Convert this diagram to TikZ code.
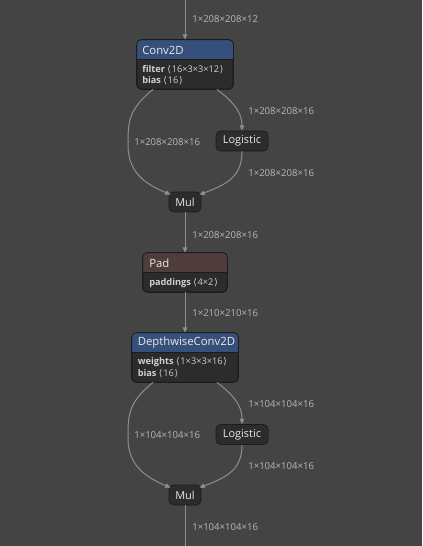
\documentclass[tikz,border=0pt]{standalone}
\usepackage{fontspec}
\setmainfont{Open Sans}
\newfontfamily\symfont{DejaVu Sans}
\usetikzlibrary{calc,arrows.meta}
\definecolor{bg}{HTML}{444444}
\definecolor{nodebody}{HTML}{2c2c2c}
\definecolor{nodeborder}{HTML}{1c1c1c}
\definecolor{convhead}{HTML}{35507a}
\definecolor{padhead}{HTML}{4e3d3a}
\definecolor{titletext}{HTML}{e8e8e8}
\definecolor{attrtext}{HTML}{d0d0d0}
\definecolor{labeltext}{HTML}{b8b8b8}
\definecolor{edgecol}{HTML}{8e8e8e}
\newcommand{\lang}{{\symfont\char"27E8}\kern0.6pt}
\newcommand{\rang}{\kern0.6pt{\symfont\char"27E9}}
\tikzset{
  opbox/.style={draw=nodeborder, line width=0.6pt, fill=nodebody, rounded corners=3.5pt, inner sep=0pt},
  smallop/.style={opbox, minimum height=15pt, font=\fontsize{8.2}{9}\selectfont, text=titletext},
  titletxt/.style={anchor=west, inner sep=0pt, font=\fontsize{8.5}{9}\selectfont, text=titletext},
  attrtxt/.style={anchor=west, inner sep=0pt, font=\fontsize{6.9}{7.5}\selectfont, text=attrtext},
  elabel/.style={anchor=west, inner sep=0pt, font=\fontsize{7.2}{8.5}\selectfont, text=labeltext},
  edge/.style={draw=edgecol, line width=0.75pt, -{Triangle[length=4pt, width=3.4pt]}},
}
\begin{document}
\begin{tikzpicture}[x=0.75pt,y=-0.75pt]
\fill[bg] (0,0) rectangle (422,546);
\useasboundingbox (0,0) rectangle (422,546);

% ---- Conv2D ----
\node[opbox, minimum width=72pt, minimum height=36.75pt] (conv) at (185,64.5) {};
\begin{scope}
\clip[rounded corners=3.5pt] (conv.south west) rectangle (conv.north east);
\fill[convhead] (conv.north west) rectangle ($(conv.north east)+(0,20)$);
\draw[nodeborder, line width=0.5pt] ($(conv.north west)+(0,20)$) -- ($(conv.north east)+(0,20)$);
\end{scope}
\draw[nodeborder, line width=0.6pt, rounded corners=3.5pt] (conv.south west) rectangle (conv.north east);
\node[titletxt] (convt) at (142,50) {Conv2D};
\node[attrtxt] (conva1) at (142,69.5) {\textbf{filter} \lang16×3×3×12\rang};
\node[attrtxt] (conva2) at (142,80.5) {\textbf{bias} \lang16\rang};

% ---- Logistic 1 ----
\node[smallop, minimum width=39pt] (log1) at (242,141) {Logistic};
% ---- Mul 1 ----
\node[smallop, minimum width=24pt] (mul1) at (185,202) {Mul};

% ---- Pad ----
\node[opbox, minimum width=63pt, minimum height=29.25pt] (pad) at (185,272.5) {};
\begin{scope}
\clip[rounded corners=3.5pt] (pad.south west) rectangle (pad.north east);
\fill[padhead] (pad.north west) rectangle ($(pad.north east)+(0,20)$);
\draw[nodeborder, line width=0.5pt] ($(pad.north west)+(0,20)$) -- ($(pad.north east)+(0,20)$);
\end{scope}
\draw[nodeborder, line width=0.6pt, rounded corners=3.5pt] (pad.south west) rectangle (pad.north east);
\node[titletxt] (padt) at (149,263) {Pad};
\node[attrtxt] (pada1) at (149,283) {\textbf{paddings} \lang4×2\rang};

% ---- DepthwiseConv2D ----
\node[opbox, minimum width=79.5pt, minimum height=36.75pt] (dw) at (185,357.5) {};
\begin{scope}
\clip[rounded corners=3.5pt] (dw.south west) rectangle (dw.north east);
\fill[convhead] (dw.north west) rectangle ($(dw.north east)+(0,20)$);
\draw[nodeborder, line width=0.5pt] ($(dw.north west)+(0,20)$) -- ($(dw.north east)+(0,20)$);
\end{scope}
\draw[nodeborder, line width=0.6pt, rounded corners=3.5pt] (dw.south west) rectangle (dw.north east);
\node[titletxt] (dwt) at (137.5,343) {DepthwiseConv2D};
\node[attrtxt] (dwa1) at (137.5,362.5) {\textbf{weights} \lang1×3×3×16\rang};
\node[attrtxt] (dwa2) at (137.5,374) {\textbf{bias} \lang16\rang};

% ---- Logistic 2 / Mul 2 ----
\node[smallop, minimum width=39pt] (log2) at (242,434.5) {Logistic};
\node[smallop, minimum width=24pt] (mul2) at (185,495) {Mul};

% ---- free ends ----
\coordinate (top) at (185,0);
\coordinate (bottom) at (185,546);

% ---- edges ----
\draw[edge] (top) -- (conv.north);
\node[elabel] (l0) at (192,19.5) {1×208×208×12};

\draw[edge] ($(conv.south)+(-32,0)$) .. controls (128,110) and (128,122) .. (128,145)
  .. controls (128,172) and (145,184) .. ($(mul1.north west)+(2,3)$);
\draw[edge] ($(conv.south)+(32,0)$) .. controls (236,104) and (242,114) .. (log1.north);
\draw[edge] (log1.south) .. controls (242,176) and (228,184) .. ($(mul1.north east)+(-2,3)$);
\node[elabel] (l1) at (248,111.5) {1×208×208×16};
\node[elabel] (l2) at (134,142.5) {1×208×208×16};
\node[elabel] (l3) at (248,173.5) {1×208×208×16};

\draw[edge] (mul1.south) -- (pad.north);
\node[elabel] (l4) at (192,235) {1×208×208×16};
\draw[edge] (pad.south) -- (dw.north);
\node[elabel] (l5) at (192,313.5) {1×210×210×16};

\draw[edge] ($(dw.south)+(-32,0)$) .. controls (128,403) and (128,415) .. (128,438)
  .. controls (128,465) and (145,477) .. ($(mul2.north west)+(2,3)$);
\draw[edge] ($(dw.south)+(32,0)$) .. controls (236,397) and (242,407) .. (log2.north);
\draw[edge] (log2.south) .. controls (242,469) and (228,477) .. ($(mul2.north east)+(-2,3)$);
\node[elabel] (l6) at (248,404.5) {1×104×104×16};
\node[elabel] (l7) at (134,435.5) {1×104×104×16};
\node[elabel] (l8) at (248,466.5) {1×104×104×16};

\draw[draw=edgecol, line width=0.75pt] (mul2.south) -- (bottom);
\node[elabel] (l9) at (192,527.5) {1×104×104×16};
\end{tikzpicture}
\end{document}
